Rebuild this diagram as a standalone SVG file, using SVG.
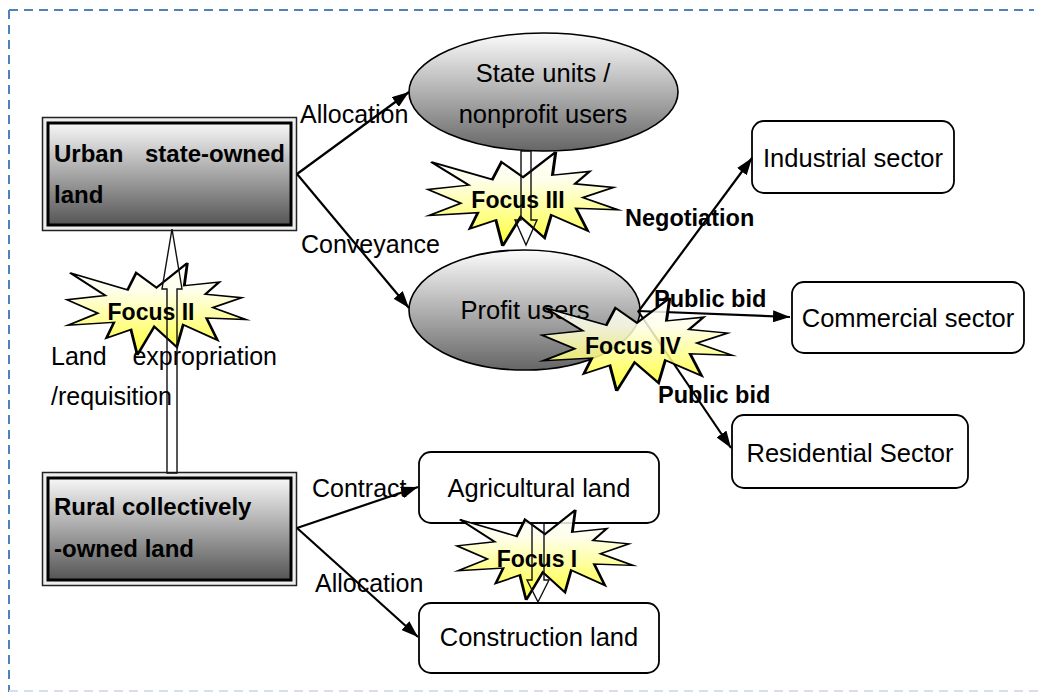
<svg xmlns="http://www.w3.org/2000/svg" xmlns:xlink="http://www.w3.org/1999/xlink" width="1040" height="692" viewBox="0 0 1040 692">
<defs>
<linearGradient id="boxGrad" x1="0" y1="0" x2="0" y2="1">
<stop offset="0" stop-color="#f7f7f7"/>
<stop offset="1" stop-color="#555555"/>
</linearGradient>
<linearGradient id="ellGrad" x1="0" y1="0" x2="0" y2="1">
<stop offset="0" stop-color="#fbfbfb"/>
<stop offset="1" stop-color="#666666"/>
</linearGradient>
<linearGradient id="starGrad" x1="0" y1="0" x2="0" y2="1">
<stop offset="0" stop-color="#ffffff"/>
<stop offset="0.3" stop-color="#fefee8"/>
<stop offset="1" stop-color="#ffff10"/>
</linearGradient>
<path id="star" d="M50,26.85 L67.23,0 L65.53,24.65 L85.09,20.63 L77.32,33.87 L97.67,37.67 L81.51,48.5 L100,61.53 L77.95,59.92 L84,83.77 L64.91,66.93 L61.33,91.38 L48.76,69.14 L39.28,100 L35.72,72.35 L22.05,81.56 L26.24,64.52 L0.625,67.53 L17.23,54.51 L0,39.88 L21.42,35.26 L1.71,10.63 L33.85,29.26 L38.67,10.63 Z"/>
<marker id="ah" markerWidth="17" markerHeight="12" refX="17" refY="6" orient="auto" markerUnits="userSpaceOnUse">
<path d="M0,0 L17,6 L0,12 Z" fill="#000"/>
</marker>
<style>
.t{font-family:"Liberation Sans",Arial,sans-serif;font-size:25px;fill:#000}
.tn{font-family:"Liberation Sans",Arial,sans-serif;font-size:25.5px;fill:#000}
.tb{font-family:"Liberation Sans",Arial,sans-serif;font-size:24px;font-weight:bold;fill:#000}
.lb{font-family:"Liberation Sans",Arial,sans-serif;font-size:23.5px;font-weight:bold;fill:#000}
.fb{font-family:"Liberation Sans",Arial,sans-serif;font-size:23px;font-weight:bold;fill:#000}
.rbox{fill:#fff;stroke:#000;stroke-width:1.8}
.ell{fill:url(#ellGrad);stroke:#000;stroke-width:1.6}
.outer{fill:#eeeeee;stroke:#222;stroke-width:1.5}
.inner{fill:url(#boxGrad);stroke:#000;stroke-width:3}
.starS{fill:url(#starGrad);fill-opacity:0.85;stroke:#000;stroke-width:1.6;vector-effect:non-scaling-stroke}
.barrow{fill:none;stroke:#111;stroke-width:1.4}
.conn{fill:none;stroke:#000;stroke-width:2.2;marker-end:url(#ah)}
.bord{fill:none;stroke:#4f81bd;stroke-width:2;stroke-dasharray:9 6}
</style>
</defs>
<rect width="1040" height="692" fill="#fff"/>

<g id="border">
<line class="bord" x1="9" y1="10" x2="1034" y2="10"/>
<line class="bord" x1="9" y1="10" x2="9" y2="692"/>
<line x1="9" y1="691" x2="1040" y2="691" stroke="#d6dfea" stroke-width="2" stroke-dasharray="9 6"/>
</g>

<g id="urban">
<rect class="outer" x="42.5" y="117.5" width="254" height="113"/>
<rect class="inner" x="48" y="123" width="243" height="102"/>
<text class="tb" x="54" y="162">Urban</text>
<text class="tb" x="285" y="162" text-anchor="end">state-owned</text>
<text class="tb" x="54" y="203">land</text>
</g>

<g id="rural">
<rect class="outer" x="42.5" y="472.5" width="254" height="113"/>
<rect class="inner" x="48" y="478" width="243" height="102"/>
<text class="tb" x="54" y="515">Rural collectively</text>
<text class="tb" x="54" y="557">-owned land</text>
</g>

<g id="stateunits">
<ellipse class="ell" cx="543.5" cy="92" rx="134.5" ry="59"/>
<text class="tn" x="543" y="82" text-anchor="middle">State units /</text>
<text class="tn" x="543" y="123" text-anchor="middle">nonprofit users</text>
</g>

<g id="profitusers">
<ellipse class="ell" cx="524.5" cy="310" rx="115.5" ry="60"/>
<text class="tn" x="525" y="319" text-anchor="middle">Profit users</text>
</g>

<g id="industrial">
<rect class="rbox" x="752" y="121" width="202" height="72" rx="12"/>
<text class="tn" x="853" y="167" text-anchor="middle">Industrial sector</text>
</g>

<g id="commercial">
<rect class="rbox" x="792" y="282" width="232" height="71" rx="12"/>
<text class="tn" x="908" y="327" text-anchor="middle">Commercial sector</text>
</g>

<g id="residential">
<rect class="rbox" x="732" y="415" width="236" height="73" rx="12"/>
<text class="tn" x="850" y="462" text-anchor="middle">Residential Sector</text>
</g>

<g id="agricultural">
<rect class="rbox" x="419" y="452" width="240" height="71" rx="12"/>
<text class="tn" x="539" y="497" text-anchor="middle">Agricultural land</text>
</g>

<g id="construction">
<rect class="rbox" x="419" y="603" width="240" height="70" rx="12"/>
<text class="tn" x="539" y="646" text-anchor="middle">Construction land</text>
</g>

<g id="connectors">
<line class="conn" x1="297" y1="174" x2="409" y2="92"/>
<line class="conn" x1="297" y1="174" x2="409" y2="308"/>
<line class="conn" x1="297" y1="528" x2="418" y2="487"/>
<line class="conn" x1="297" y1="528" x2="418" y2="637"/>
<line class="conn" x1="638" y1="312" x2="752" y2="158"/>
<line class="conn" x1="638" y1="311" x2="790" y2="317"/>
<line class="conn" x1="638" y1="311" x2="731" y2="448"/>
</g>

<g id="focus2">
<use xlink:href="#star" class="starS" transform="translate(67,263) scale(1.79,0.92)"/>
<path class="barrow" d="M172,229 L182,289 L177,289 L177,473 L167,473 L167,289 L162,289 Z"/>
<text class="fb" x="151" y="320" text-anchor="middle">Focus II</text>
</g>

<g id="focus3">
<use xlink:href="#star" class="starS" transform="translate(428,152) scale(1.9,0.94)"/>
<path class="barrow" d="M521,151 L531,151 L531,220 L537,220 L526,245 L515,220 L521,220 Z"/>
<text class="fb" x="518" y="208" text-anchor="middle">Focus III</text>
</g>

<g id="focus4">
<use xlink:href="#star" class="starS" transform="translate(542,298) scale(1.9,0.93)"/>
<text class="fb" x="633" y="354" text-anchor="middle">Focus IV</text>
</g>

<g id="focus1">
<use xlink:href="#star" class="starS" transform="translate(457,510) scale(1.76,0.9)"/>
<path class="barrow" d="M532,523 L544,523 L544,580 L549,580 L538,602 L527,580 L532,580 Z"/>
<text class="fb" x="537" y="567" text-anchor="middle">Focus I</text>
</g>

<g id="labels">
<text class="t" x="300" y="123">Allocation</text>
<text class="t" x="301" y="253">Conveyance</text>
<text class="t" x="312" y="497">Contract</text>
<text class="t" x="315" y="592">Allocation</text>
<text class="lb" x="625" y="226">Negotiation</text>
<text class="lb" x="654" y="307">Public bid</text>
<text class="lb" x="658" y="403">Public bid</text>
<text class="t" x="51" y="365">Land</text>
<text class="t" x="277" y="365" text-anchor="end">expropriation</text>
<text class="t" x="51" y="405">/requisition</text>
</g>
</svg>
